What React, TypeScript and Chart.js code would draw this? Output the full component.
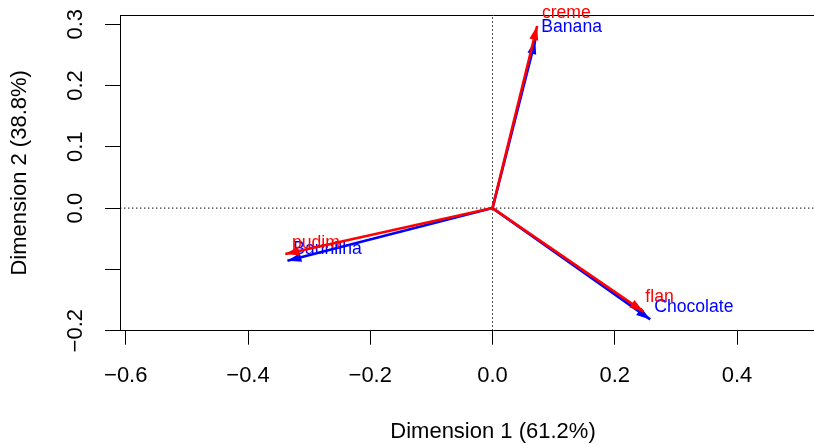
import React, { useEffect, useRef } from "react";
import { Chart, registerables } from "chart.js";

Chart.register(...registerables);

// Axis ticks and limits
const xTicks = [-0.6, -0.4, -0.2, 0, 0.2, 0.4];
const xTickLabels = ["\u22120.6", "\u22120.4", "\u22120.2", "0.0", "0.2", "0.4"];
const yTicks = [-0.2, -0.1, 0, 0.1, 0.2, 0.3];
const yTickLabels = ["\u22120.2", "", "0.0", "0.1", "0.2", "0.3"];
const xLimits = [-0.6094, 0.611];
const yLimits = [-0.2, 0.315];

const xTitle = "Dimension 1 (61.2%)";
const yTitle = "Dimension 2 (38.8%)";

// Row points (blue)
const rowNames = ["Banana", "Baunilha", "Chocolate"];
const rowX = [0.07, -0.3355, 0.258];
const rowY = [0.274, -0.086, -0.1816];
const rowLabelX = [0.0798, -0.326, 0.2646];
const rowLabelY = [0.2953, -0.067, -0.161];

// Column points (red)
const colNames = ["creme", "pudim", "flan"];
const colX = [0.073, -0.339, 0.247];
const colY = [0.297, -0.075, -0.169];
const colLabelX = [0.0808, -0.328, 0.25];
const colLabelY = [0.3176, -0.0566, -0.1457];

const FONT = "'Liberation Sans', Arial, Helvetica, sans-serif";
const RED = "#FF0000";
const BLUE = "#0000FF";

const arrowPlugin = {
  id: "arrowHeads",
  afterDatasetDraw(chart: any, args: any) {
    const ds = chart.data.datasets[args.index];
    if (!ds.isArrow) return;
    const pts = args.meta.data;
    if (!pts || pts.length < 2) return;
    const p0 = pts[0];
    const p1 = pts[1];
    const ctx = chart.ctx;
    const ang = Math.atan2(p1.y - p0.y, p1.x - p0.x);
    const L = 14;
    const W = 4.5;
    const c = Math.cos(ang);
    const s = Math.sin(ang);
    ctx.save();
    ctx.fillStyle = ds.borderColor;
    ctx.beginPath();
    ctx.moveTo(p1.x, p1.y);
    ctx.lineTo(p1.x - L * c + W * s, p1.y - L * s - W * c);
    ctx.lineTo(p1.x - L * c - W * s, p1.y - L * s + W * c);
    ctx.closePath();
    ctx.fill();
    const xs = chart.scales.x;
    const ys = chart.scales.y;
    ctx.font = `17.6px ${FONT}`;
    ctx.textAlign = "left";
    ctx.textBaseline = "middle";
    ctx.fillStyle = ds.borderColor;
    ctx.fillText(ds.labelText, xs.getPixelForValue(ds.labelX), ys.getPixelForValue(ds.labelY));
    ctx.restore();
  },
};

function arrowDataset(name: string, x: number, y: number, lx: number, ly: number, color: string) {
  return {
    label: name,
    data: [
      { x: 0, y: 0 },
      { x, y },
    ],
    showLine: true,
    borderColor: color,
    backgroundColor: color,
    borderWidth: 2.6,
    pointRadius: 0,
    pointHoverRadius: 0,
    isArrow: true,
    labelText: name,
    labelX: lx,
    labelY: ly,
  } as any;
}

export default function App() {
  const ref = useRef<HTMLCanvasElement | null>(null);

  useEffect(() => {
    if (!ref.current) return;
    const red = colNames.map((n, i) => arrowDataset(n, colX[i], colY[i], colLabelX[i], colLabelY[i], RED));
    const blue = rowNames.map((n, i) => arrowDataset(n, rowX[i], rowY[i], rowLabelX[i], rowLabelY[i], BLUE));
    const dotted = [
      {
        label: "h0",
        data: [
          { x: xLimits[0], y: 0 },
          { x: xLimits[1], y: 0 },
        ],
        showLine: true,
        borderColor: "#000",
        borderWidth: 1,
        borderDash: [1.4, 2.6],
        pointRadius: 0,
      },
      {
        label: "v0",
        data: [
          { x: 0, y: yLimits[0] },
          { x: 0, y: yLimits[1] },
        ],
        showLine: true,
        borderColor: "#000",
        borderWidth: 1,
        borderDash: [1.4, 2.6],
        pointRadius: 0,
      },
    ];

    const chart = new Chart(ref.current, {
      type: "scatter",
      data: { datasets: [...red, ...blue, ...dotted] as any },
      plugins: [arrowPlugin as any],
      options: {
        animation: false,
        responsive: false,
        devicePixelRatio: 1,
        events: [],
        layout: { padding: { left: 0, top: 15, right: 14, bottom: 0 } },
        plugins: { legend: { display: false }, tooltip: { enabled: false } },
        scales: {
          x: {
            type: "linear",
            position: "bottom",
            min: xLimits[0],
            max: xLimits[1],
            afterBuildTicks: (s: any) => {
              s.ticks = xTicks.map((v) => ({ value: v }));
            },
            afterFit: (s: any) => {
              s.height = 115.3;
              s.paddingLeft = 0;
              s.paddingRight = 0;
            },
            ticks: {
              autoSkip: false,
              maxRotation: 0,
              minRotation: 0,
              padding: 17.6,
              color: "#000",
              font: { family: FONT, size: 22 },
              callback: (_v: any, i: number) => xTickLabels[i],
            },
            grid: {
              display: true,
              drawOnChartArea: false,
              drawTicks: true,
              tickLength: 14,
              color: "#000",
              lineWidth: 1,
            },
            border: { display: true, color: "#000", width: 1 },
            title: {
              display: true,
              text: xTitle,
              color: "#000",
              font: { family: FONT, size: 22 },
              padding: { top: 0, bottom: 1.3 },
            },
          },
          x2: {
            type: "linear",
            position: "top",
            display: true,
            min: xLimits[0],
            max: xLimits[1],
            afterFit: (s: any) => {
              s.height = 0;
              s.paddingLeft = 0;
              s.paddingRight = 0;
            },
            ticks: { display: false },
            grid: { display: false, drawTicks: false },
            border: { display: true, color: "#000", width: 1 },
          },
          y: {
            type: "linear",
            position: "left",
            min: yLimits[0],
            max: yLimits[1],
            afterBuildTicks: (s: any) => {
              s.ticks = yTicks.map((v) => ({ value: v }));
            },
            afterFit: (s: any) => {
              s.width = 120;
              s.paddingTop = 0;
              s.paddingBottom = 0;
            },
            ticks: {
              autoSkip: false,
              minRotation: 90,
              maxRotation: 90,
              crossAlign: "center",
              padding: 7.5,
              color: "#000",
              font: { family: FONT, size: 22 },
              callback: (_v: any, i: number) => yTickLabels[i],
            },
            grid: {
              display: true,
              drawOnChartArea: false,
              drawTicks: true,
              tickLength: 15,
              color: "#000",
              lineWidth: 1,
            },
            border: { display: true, color: "#000", width: 1 },
            title: {
              display: true,
              text: yTitle,
              color: "#000",
              font: { family: FONT, size: 22 },
              padding: { top: 6.6, bottom: 0 },
            },
          },
        },
      } as any,
    });
    return () => chart.destroy();
  }, []);

  return (
    <div
      style={{
        position: "fixed",
        left: 0,
        top: 0,
        width: 814,
        height: 446,
        overflow: "hidden",
        background: "#fff",
      }}
    >
      <canvas ref={ref} width={880} height={446} style={{ display: "block", width: 880, height: 446 }} />
    </div>
  );
}
